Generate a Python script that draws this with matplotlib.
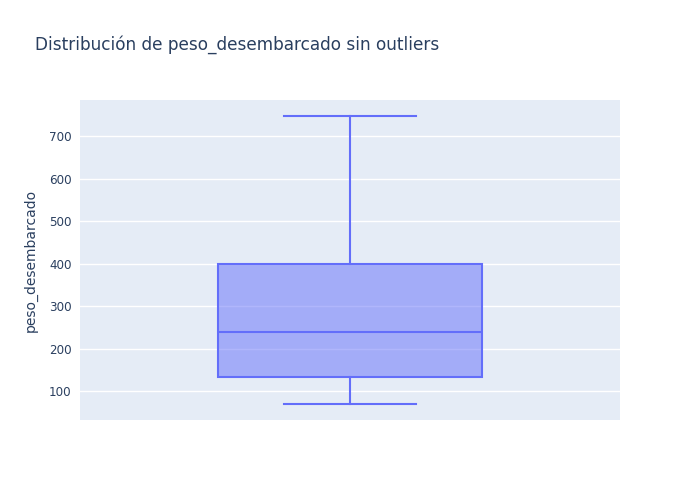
import matplotlib.pyplot as plt

# box statistics
categories = ["peso_desembarcado"]
q1 = [134]
median = [240]
q3 = [400]
whislo = [71]
whishi = [748]

yticks = [100, 200, 300, 400, 500, 600, 700]

txt = "#2a3f5f"
blue = "#636efa"

fig = plt.figure(figsize=(7, 5), dpi=100)
ax = fig.add_axes([80/700, 80/500, 540/700, 320/500])
ax.set_facecolor("#e5ecf6")

stats = []
for i in range(len(categories)):
    stats.append(dict(label=categories[i], q1=q1[i], med=median[i], q3=q3[i],
                      whislo=whislo[i], whishi=whishi[i], fliers=[]))

ax.bxp(stats, positions=[0], widths=0.49, showfliers=False, patch_artist=True,
       boxprops=dict(facecolor=(99/255, 110/255, 250/255, 0.5), edgecolor=blue, linewidth=1.5),
       medianprops=dict(color=blue, linewidth=1.5),
       whiskerprops=dict(color=blue, linewidth=1.5),
       capprops=dict(color=blue, linewidth=1.5),
       capwidths=0.245, zorder=3)

ax.set_xlim(-0.5, 0.5)
ax.set_ylim(32.5, 785.4)
ax.set_xticks([])
ax.set_yticks(yticks)
ax.set_yticklabels([str(v) for v in yticks], color=txt, fontsize=8.6)
ax.tick_params(axis="y", length=0, pad=6)
ax.grid(axis="y", color="white", linewidth=1)
ax.set_axisbelow(True)
for s in ax.spines.values():
    s.set_visible(False)

ax.set_ylabel("peso_desembarcado", color=txt, fontsize=10, labelpad=8)
fig.text(35/700, 1 - 45/500, "Distribución de peso_desembarcado sin outliers",
         color=txt, fontsize=12.2, va="center", ha="left")

fig.savefig("out.png", dpi=100)
